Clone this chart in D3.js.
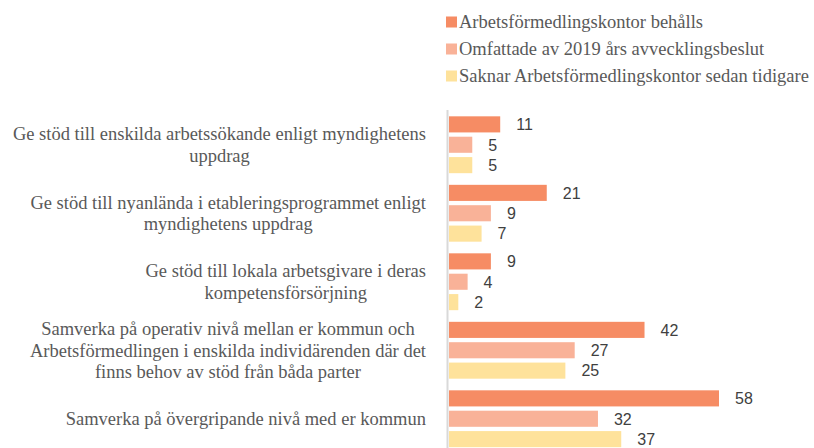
<!DOCTYPE html>
<html><head><meta charset="utf-8">
<script src="https://cdn.jsdelivr.net/npm/d3@7"></script>
<style>body{margin:0;background:#fff}
.serif{font-family:"Liberation Serif","Times New Roman","DejaVu Serif",serif}
.sans{font-family:"Liberation Sans",Arial,"DejaVu Sans",sans-serif}
</style>
</head><body>
<svg id="chart" width="814" height="448"></svg>
<script>
const categories = [
  ["Ge stöd till enskilda arbetssökande enligt myndighetens", "uppdrag"],
  ["Ge stöd till nyanlända i etableringsprogrammet enligt", "myndighetens uppdrag"],
  ["Ge stöd till lokala arbetsgivare i deras", "kompetensförsörjning"],
  ["Samverka på operativ nivå mellan er kommun och", "Arbetsförmedlingen i enskilda individärenden där det", "finns behov av stöd från båda parter"],
  ["Samverka på övergripande nivå med er kommun"]
];
const seriesNames = ["Arbetsförmedlingskontor behålls", "Omfattade av 2019 års avvecklingsbeslut", "Saknar Arbetsförmedlingskontor sedan tidigare"];
const behalls = [11, 21, 9, 42, 58];
const omfattade = [5, 9, 4, 27, 32];
const saknar = [5, 7, 2, 25, 37];
const colors = ["#F68C64", "#F9B298", "#FEE29B"];

const series = [behalls, omfattade, saknar];
const svg = d3.select("#chart");
const x0 = 449;
const x = d3.scaleLinear().domain([0, 58]).range([x0, 719]);
const y = d3.scaleBand().domain(d3.range(categories.length)).range([110.5, 453]).paddingInner(0.17).paddingOuter(0.085);
const yi = d3.scaleBand().domain(d3.range(3)).range([0, y.bandwidth()]).paddingInner(0.21).paddingOuter(0);

series.forEach((vals, s) => {
  const g = svg.append("g");
  g.selectAll("rect").data(vals).join("rect")
    .attr("x", x0)
    .attr("y", (d, i) => y(i) + yi(s))
    .attr("width", d => x(d) - x0)
    .attr("height", yi.bandwidth())
    .attr("fill", colors[s]);
  g.selectAll("text").data(vals).join("text")
    .attr("class", "sans")
    .attr("x", d => x(d) + 16)
    .attr("y", (d, i) => y(i) + yi(s) + yi.bandwidth() / 2)
    .attr("dy", "0.36em")
    .attr("font-size", 16)
    .attr("fill", "#404040")
    .text(d => d);
});

svg.append("line").attr("x1", 447.5).attr("x2", 447.5).attr("y1", 110).attr("y2", 448)
  .attr("stroke", "#D9D9D9").attr("stroke-width", 2);

const labelRight = 426;
const lineH = 21.5;
categories.forEach((lines, i) => {
  const g = svg.append("g");
  const texts = lines.map((ln, k) => g.append("text")
    .attr("class", "serif").attr("font-size", 18.5).attr("fill", "#595959")
    .attr("text-anchor", "middle")
    .attr("y", y(i) + y.bandwidth() / 2 + (k - (lines.length - 1) / 2) * lineH)
    .attr("dy", "0.35em").text(ln));
  const w = d3.max(texts, t => t.node().getComputedTextLength());
  texts.forEach(t => t.attr("x", labelRight - w / 2));
});

const legend = svg.append("g");
seriesNames.forEach((name, s) => {
  const cy = 22 + s * 27;
  legend.append("rect").attr("x", 446).attr("y", cy - 5.5).attr("width", 11).attr("height", 11).attr("fill", colors[s]);
  legend.append("text").attr("class", "serif").attr("x", 459).attr("y", cy).attr("dy", "0.35em")
    .attr("font-size", 18.5).attr("fill", "#595959").text(name);
});
</script>
</body></html>
